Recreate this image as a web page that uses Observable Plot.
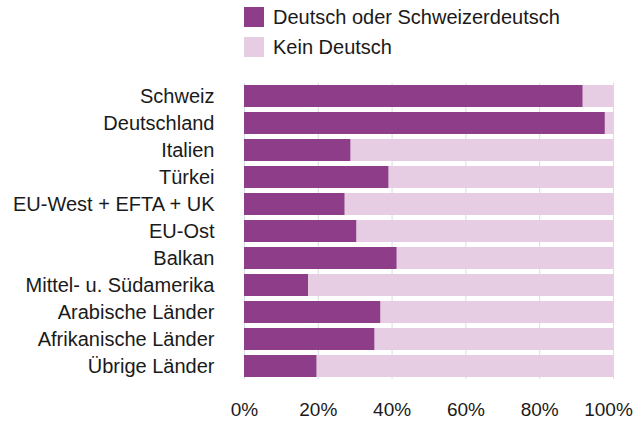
<!DOCTYPE html>
<html>
<head>
<meta charset="utf-8">
<script src="https://cdn.jsdelivr.net/npm/d3@7"></script>
<script src="https://cdn.jsdelivr.net/npm/@observablehq/plot@0.6"></script>
<style>
  html, body { margin: 0; padding: 0; background: #fff; }
  body { width: 633px; height: 421px; overflow: hidden; font-family: "Liberation Sans", Arial, sans-serif; color: #1a1a1a; }
  #legend { position: relative; height: 66px; }
  .item { position: absolute; left: 244px; height: 20px; display: flex; align-items: center; font-size: 20px; white-space: nowrap; }
  .sw { width: 20px; height: 20px; margin-right: 9px; flex: none; }
  #chart svg { display: block; overflow: visible; }
</style>
</head>
<body>
<div id="legend"></div>
<div id="chart"></div>
<script>
const categories = ["Schweiz", "Deutschland", "Italien", "Türkei", "EU-West + EFTA + UK", "EU-Ost", "Balkan", "Mittel- u. Südamerika", "Arabische Länder", "Afrikanische Länder", "Übrige Länder"];
const seriesNames = ["Deutsch oder Schweizerdeutsch", "Kein Deutsch"];
const deutsch = [91.8, 97.8, 28.9, 39.2, 27.3, 30.5, 41.4, 17.4, 37.0, 35.4, 19.7];
const keinDeutsch = [8.2, 2.2, 71.1, 60.8, 72.7, 69.5, 58.6, 82.6, 63.0, 64.6, 80.3];
const xTicks = [0, 20, 40, 60, 80, 100];
const colors = ["#8e3e89", "#e6cde3"];

const rows = [];
categories.forEach((c, i) => {
  rows.push({cat: c, series: seriesNames[0], value: deutsch[i]});
  rows.push({cat: c, series: seriesNames[1], value: keinDeutsch[i]});
});

// legend
const legend = document.getElementById("legend");
seriesNames.forEach((s, i) => {
  const d = document.createElement("div");
  d.className = "item";
  d.style.top = (7 + i * 30) + "px";
  const sw = document.createElement("span");
  sw.className = "sw";
  sw.style.background = colors[i];
  d.appendChild(sw);
  d.appendChild(document.createTextNode(s));
  legend.appendChild(d);
});

const fmt = d => d + "%";
const chart = Plot.plot({
  width: 633,
  height: 355,
  marginTop: 17,
  marginBottom: 42,
  marginLeft: 244,
  marginRight: 20,
  style: {fontFamily: "Liberation Sans, Arial, sans-serif", fontSize: "20px", color: "#1a1a1a", background: "transparent"},
  x: {domain: [0, 100], axis: null},
  y: {domain: categories, paddingInner: 0.18, paddingOuter: 0.05, tickSize: 0, tickPadding: 30, label: null},
  color: {domain: seriesNames, range: colors},
  marks: [
    Plot.ruleX(xTicks, {stroke: "#d3dde2", strokeWidth: 1}),
    Plot.barX(rows, Plot.stackX({x: "value", y: "cat", fill: "series", order: null})),
    Plot.text(xTicks.filter(t => t < 100), {x: d => d, text: fmt, frameAnchor: "bottom", lineAnchor: "top", dy: 23, fontSize: 19, fill: "#1a1a1a"}),
    Plot.text(xTicks.filter(t => t === 100), {x: d => d, text: fmt, frameAnchor: "bottom", lineAnchor: "top", dy: 23, dx: -5, fontSize: 19, fill: "#1a1a1a"})
  ]
});
document.getElementById("chart").appendChild(chart);
</script>
</body>
</html>
